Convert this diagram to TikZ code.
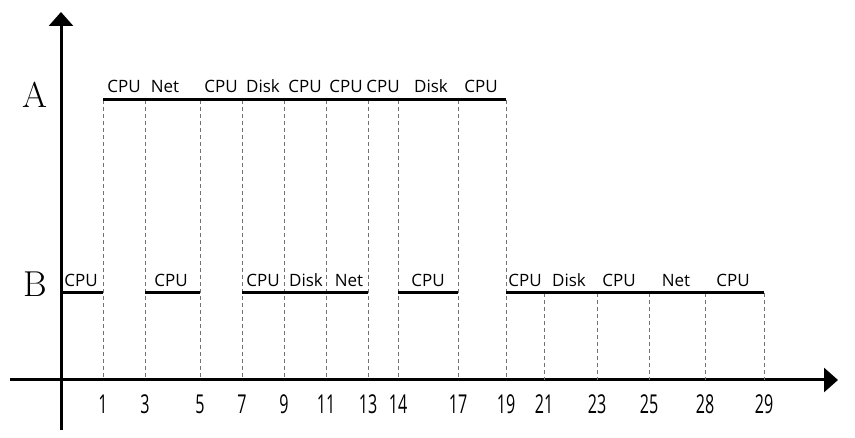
\documentclass[tikz,border=0pt]{standalone}
\usepackage{fontspec}
\setsansfont{Open Sans}
\usetikzlibrary{arrows.meta}
\tikzset{
  axis/.style={line width=3pt,-{Triangle[width=24pt,length=14pt]}},
  busy/.style={line width=3pt},
  guide/.style={black!55,line width=1pt,dash pattern=on 4pt off 3pt},
  lab/.style={anchor=base,font=\sffamily\fontsize{17}{17}\selectfont,inner sep=0pt},
  num/.style={anchor=base,font=\sffamily\fontsize{26}{26}\selectfont,inner sep=0pt,xscale=0.62},
  proc/.style={anchor=base,font=\fontsize{36}{36}\selectfont,inner sep=0pt}
}
\begin{document}
\begin{tikzpicture}[x=1pt,y=-1pt]
\useasboundingbox (0,0) rectangle (855,438);
% axes
\coordinate (ybot) at (61,430);
\coordinate (ytop) at (61,12);
\coordinate (xl) at (10,380);
\coordinate (xr) at (838,380);
\draw[axis] (ybot) -- (ytop);
\draw[axis] (xl) -- (xr);
% process labels
\node[proc] (pA) at (35,108) {A};
\node[proc] (pB) at (35,297) {B};
% ticks
\foreach \n/\x in {1/103,3/145,5/200,7/242,9/284,11/326,13/368,14/398,17/458,19/506,21/544,23/597,25/649,28/705,29/764}{
  \coordinate (t\n) at (\x,380);
  \coordinate (a\n) at (\x,100);
  \coordinate (b\n) at (\x,293);
  \node[num] (n\n) at (\x,414) {\n};
}
\coordinate (b0) at (61,293);
% dashed guides
\foreach \n in {1,3,5,7,9,11,13,14,17,19}{\draw[guide] (a\n) -- (t\n);}
\foreach \n in {21,23,25,28,29}{\draw[guide] (b\n) -- (t\n);}
% A busy line
\draw[busy] (a1) -- (a19);
% B busy lines
\draw[busy] (b0) -- (b1);
\draw[busy] (b3) -- (b5);
\draw[busy] (b7) -- (b13);
\draw[busy] (b14) -- (b17);
\draw[busy] (b19) -- (b29);
% A labels
\node[lab] (la1) at (124,93) {CPU};
\node[lab] (la2) at (165,93) {Net};
\node[lab] (la3) at (221,93) {CPU};
\node[lab] (la4) at (263,93) {Disk};
\node[lab] (la5) at (305,93) {CPU};
\node[lab] (la6) at (346,93) {CPU};
\node[lab] (la7) at (383,93) {CPU};
\node[lab] (la8) at (431,93) {Disk};
\node[lab] (la9) at (481,93) {CPU};
% B labels
\node[lab] (lb1) at (81,287) {CPU};
\node[lab] (lb2) at (171,287) {CPU};
\node[lab] (lb3) at (263,287) {CPU};
\node[lab] (lb4) at (306,287) {Disk};
\node[lab] (lb5) at (349,287) {Net};
\node[lab] (lb6) at (428,287) {CPU};
\node[lab] (lb7) at (525,287) {CPU};
\node[lab] (lb8) at (569,287) {Disk};
\node[lab] (lb9) at (619,287) {CPU};
\node[lab] (lb10) at (676,287) {Net};
\node[lab] (lb11) at (733,287) {CPU};
\end{tikzpicture}
\end{document}
